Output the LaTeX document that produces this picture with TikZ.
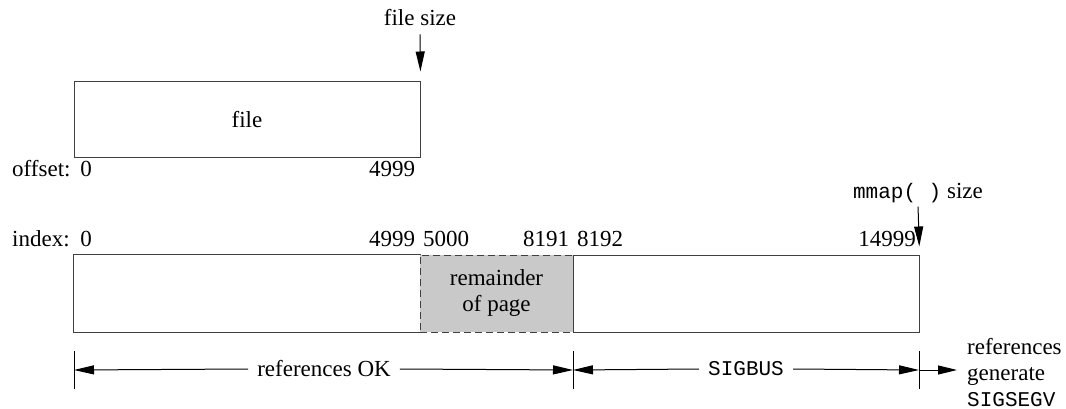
\documentclass[tikz,border=0pt]{standalone}
\usepackage{fontspec}
\setmainfont{Liberation Serif}
\setmonofont{Liberation Mono}
\usetikzlibrary{arrows.meta}
\newcommand{\codett}[1]{{\fontsize{21}{26}\selectfont\ttfamily #1}}
\begin{document}
\begin{tikzpicture}[x=1pt,y=-1pt,
  every node/.style={font=\fontsize{23}{26}\selectfont, inner sep=3pt},
  seg/.style={minimum height=77pt, inner sep=0pt, line width=1pt, draw=black!75},
  lbl/.style={anchor=base},
  dimlbl/.style={inner sep=9pt},
  arr/.style={line width=1pt, -{Triangle[length=20pt,width=9pt]}},
  tick/.style={line width=1pt},
  dashseg/.style={dash pattern=on 7pt off 4pt}
]
\useasboundingbox (0,0) rectangle (1066,409);

% top file box
\node[seg, draw, minimum width=346pt, minimum height=76pt] (file) at (247,120) {file};
\node[lbl] (fs) at (420,26) {file size};
\draw[arr, shorten >=10pt, shorten <=5pt] (fs.south) -- (file.north east);
\node[lbl, anchor=base west, inner sep=0pt] (offs) at (12,177) {offset:};
\node[lbl] (o0) at (86,177) {0};
\node[lbl] (o4999) at (392,177) {4999};

% bottom segments
\node[seg, draw=none, minimum width=346pt] (okA) at (247,293.5) {};
\draw[line width=1pt, draw=black!75] (okA.north east) -- (okA.north west) -- (okA.south west) -- (okA.south east);
\node[seg, draw, dashseg, fill=black!21, minimum width=153pt, align=center] (rem) at (496.5,293.5) {remainder\\of page};
\node[seg, draw, minimum width=346pt] (sig) at (746,293.5) {};

% index labels
\node[lbl, anchor=base west, inner sep=0pt] (idx) at (12,246) {index:};
\node[lbl] (i0) at (86,246) {0};
\node[lbl] (i4999) at (392,246) {4999};
\node[lbl] (i5000) at (446,246) {5000};
\node[lbl] (i8191) at (546,246) {8191};
\node[lbl] (i8192) at (600,246) {8192};
\node[lbl] (i14999) at (887,246) {14999};

\node[lbl] (ms) at (918,198) {\codett{mmap( )} size};
\draw[arr, shorten >=8pt, shorten <=1pt] (ms.south) -- (sig.north east);

% dimension lines
\coordinate (t0) at (74,370);
\coordinate (t1) at (573,370);
\coordinate (t2) at (919,370);
\coordinate (t3) at (957,370);
\foreach \t in {t0,t1,t2}
  \draw[tick] ([yshift=19pt]\t) -- ([yshift=-19pt]\t);

\node[dimlbl] (ok) at (324,369) {references OK};
\node[dimlbl] (bus) at (746,369) {\codett{SIGBUS}};
\draw[arr] (ok.west) -- (t0);
\draw[arr] (ok.east) -- (t1);
\draw[arr] (bus.west) -- (t1);
\draw[arr] (bus.east) -- (t2);
\draw[arr, -{Triangle[length=19pt,width=9pt]}] (t2) -- (t3);
\node[anchor=north west, inner sep=0pt, align=left] (segv) at (967,338) {references\\generate\\\codett{SIGSEGV}};
\end{tikzpicture}
\end{document}
